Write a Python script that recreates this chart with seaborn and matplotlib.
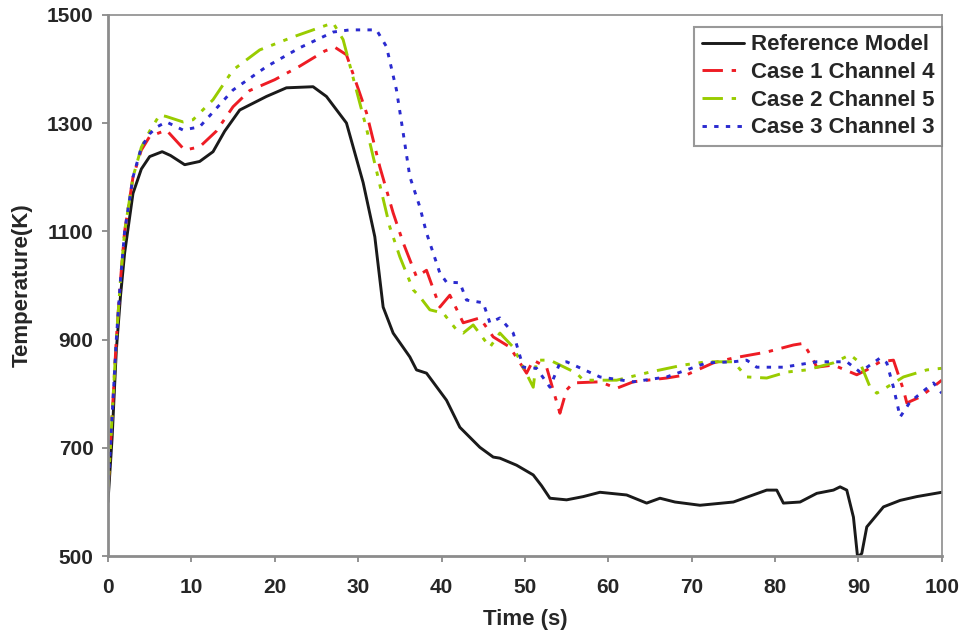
import pandas as pd
import matplotlib.pyplot as plt
import seaborn as sns

# Values
ref_t = [0, 0.5, 1, 1.5, 2, 3, 4, 5, 6.5, 7.5, 9.2, 11, 12.6, 14, 15.8, 19, 21.4, 24.6, 26.2,
         28.6, 30.6, 32, 33, 34.2, 36.2, 37, 38.2, 40.6, 42.2, 44.6, 46.2, 47, 49, 51, 52,
         53, 55, 57, 59, 62.2, 64.6, 66.2, 68, 71, 75, 79, 80.2, 81, 83, 85, 87, 87.8, 88.6,
         89.4, 89.9, 90.4, 91, 93, 95, 97, 100]
ref_T = [600, 720, 880, 980, 1060, 1170, 1215, 1238, 1247, 1240, 1223, 1229, 1247, 1285, 1324,
         1349, 1365, 1367, 1349, 1300, 1190, 1090, 960, 912, 868, 844, 838, 788, 738, 701,
         683, 681, 668, 650, 630, 607, 604, 610, 618, 613, 598, 607, 600, 594, 600, 622, 622,
         598, 600, 616, 622, 628, 622, 572, 498, 505, 554, 591, 603, 610, 618]

c1_t = [0, 0.5, 1, 1.5, 2, 3, 4, 5, 7, 9.2, 11, 13, 15, 17, 20, 23, 26, 27.2, 28.6, 31, 32.6,
        34.2, 35.4, 37, 38.2, 39.8, 41, 42.6, 44.6, 46.2, 48.2, 50.2, 51, 52.6, 54.2, 55,
        55.8, 59, 61, 63, 67, 69.4, 72.6, 75, 79, 82.2, 83.4, 84.6, 85, 87, 89.8, 91, 92.6,
        94.2, 95.4, 95.8, 97.4, 100]
c1_T = [620, 760, 900, 1010, 1100, 1200, 1250, 1275, 1287, 1250, 1256, 1285, 1330, 1360, 1380,
        1405, 1433, 1440, 1426, 1319, 1219, 1134, 1079, 1016, 1028, 960, 982, 931, 940, 905,
        886, 838, 862, 849, 764, 807, 820, 822, 810, 822, 829, 835, 857, 866, 877, 890, 893,
        862, 849, 853, 835, 844, 859, 862, 807, 783, 794, 825]

c2_t = [0, 0.5, 1, 1.5, 2, 3, 4, 5, 6.2, 7, 9, 10.2, 12.6, 15, 18.2, 22.2, 27, 28.2, 31,
        33.8, 35, 36.6, 37.4, 38.6, 40.2, 41.8, 42.6, 43.8, 45.8, 47, 48.6, 49.8, 51, 51.4,
        53, 56.2, 57, 61, 65, 69, 71.8, 75, 76.6, 79, 81.4, 83.8, 87, 89, 90.2, 91.4, 92.2,
        93.4, 95.4, 98.2, 100]
c2_T = [620, 760, 900, 1010, 1100, 1200, 1255, 1285, 1315, 1312, 1302, 1306, 1343, 1398, 1435,
        1459, 1485, 1454, 1290, 1108, 1053, 992, 979, 955, 949, 918, 912, 927, 886, 912, 886,
        849, 812, 862, 862, 838, 825, 825, 840, 853, 859, 859, 831, 829, 840, 844, 857, 872,
        857, 812, 801, 812, 831, 844, 847]

c3_t = [0, 0.5, 1, 1.5, 2, 3, 4, 5, 5.9, 7, 9, 11, 15, 19, 23, 27, 29, 32.2, 33.4, 34.6,
        35.4, 36.2, 37.4, 38.2, 39.8, 40.6, 42.2, 43, 45, 45.8, 47, 48.6, 49.8, 51.4, 53,
        54.2, 55, 59, 63, 67, 71.8, 75, 76.6, 77.8, 81, 85, 88.6, 90.2, 92.6, 93.4, 94.2, 95,
        96.2, 99, 100]
c3_T = [620, 760, 900, 1010, 1100, 1200, 1255, 1280, 1293, 1302, 1287, 1293, 1361, 1404, 1439,
        1468, 1472, 1472, 1441, 1361, 1282, 1201, 1145, 1097, 1023, 1006, 1005, 973, 968, 931,
        940, 912, 849, 847, 812, 857, 859, 831, 822, 831, 857, 859, 862, 849, 849, 859, 859,
        840, 866, 857, 812, 757, 785, 820, 801]

series = [
    ("Reference Model", ref_t, ref_T, "#1a1a1a", None),
    ("Case 1 Channel 4", c1_t, c1_T, "#ee1c24", (7, 3, 1.5, 3)),
    ("Case 2 Channel 5", c2_t, c2_T, "#99cc00", (7, 3, 1.5, 3, 1.5, 3)),
    ("Case 3 Channel 3", c3_t, c3_T, "#2a2acf", (1.5, 2.5)),
]

sns.set_style("white")
plt.rcParams["font.family"] = ["Liberation Sans", "DejaVu Sans"]
plt.rcParams["font.weight"] = "bold"

fig, ax = plt.subplots(figsize=(9.64, 6.4), dpi=100)
fig.subplots_adjust(left=0.112, right=0.977, bottom=0.131, top=0.977)

for name, t, T, color, dash in series:
    df = pd.DataFrame({"Time (s)": t, "Temperature(K)": T})
    sns.lineplot(data=df, x="Time (s)", y="Temperature(K)", ax=ax, color=color,
                 linewidth=2.1, label=name, sort=False)
    if dash is not None:
        ax.lines[-1].set_dashes(dash)

ax.set_xlim(0, 100)
ax.set_ylim(500, 1500)
ax.set_xticks(range(0, 101, 10))
ax.set_yticks(range(500, 1501, 200))
ax.tick_params(axis="both", labelsize=15, length=4.5, width=1.2, color="#808080",
               direction="out", bottom=True, left=True)
ax.tick_params(axis="x", pad=11)
ax.tick_params(axis="y", pad=6)
for lbl in ax.get_xticklabels() + ax.get_yticklabels():
    lbl.set_fontweight("bold")
ax.set_xlabel("Time (s)", fontsize=16, fontweight="bold", labelpad=9)
ax.set_ylabel("Temperature(K)", fontsize=16, fontweight="bold", labelpad=10)

for side in ["left", "bottom"]:
    ax.spines[side].set_color("#8c8c8c")
    ax.spines[side].set_linewidth(2)
for side in ["top", "right"]:
    ax.spines[side].set_color("#8c8c8c")
    ax.spines[side].set_linewidth(1.2)

leg = ax.legend(loc="upper right", bbox_to_anchor=(1.0, 0.978), fontsize=16,
                frameon=True, fancybox=False, edgecolor="#808080", handlelength=1.9,
                handletextpad=0.3, borderpad=0.35, labelspacing=0.3, borderaxespad=0)
leg.get_frame().set_linewidth(1.5)
for txt in leg.get_texts():
    txt.set_fontweight("bold")

plt.savefig("out.png", dpi=100)
